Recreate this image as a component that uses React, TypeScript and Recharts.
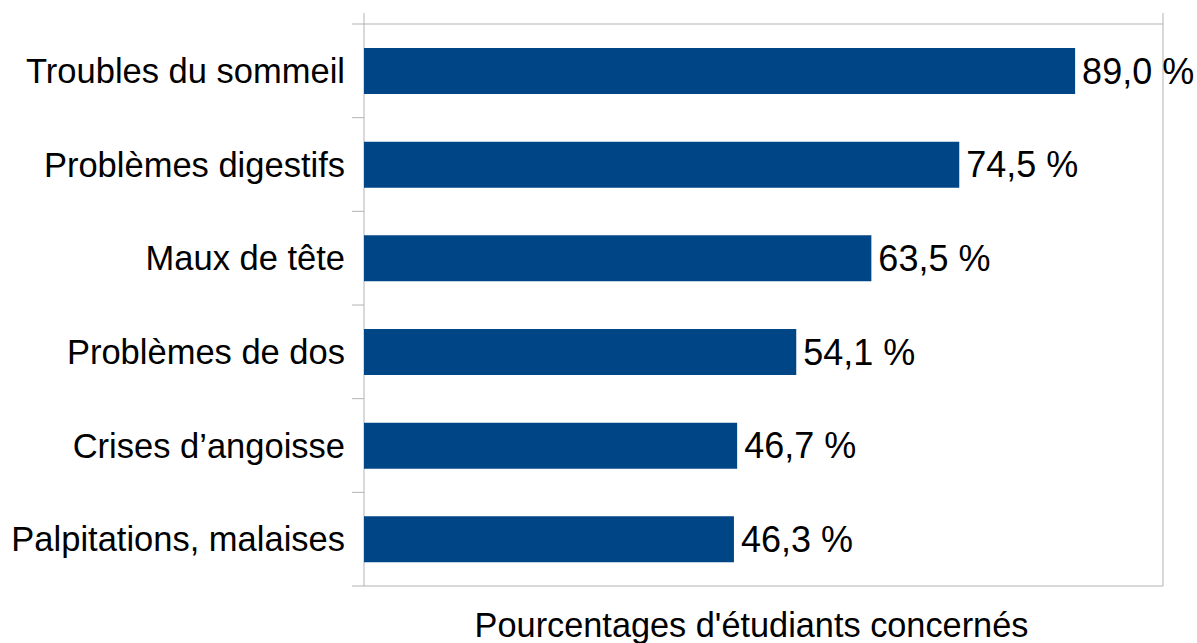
import { BarChart, Bar, XAxis, YAxis, CartesianGrid, LabelList, ReferenceLine } from 'recharts';

const categories = [
  'Troubles du sommeil',
  'Problèmes digestifs',
  'Maux de tête',
  'Problèmes de dos',
  'Crises d’angoisse',
  'Palpitations, malaises',
];
const values = [89.0, 74.5, 63.5, 54.1, 46.7, 46.3];
const xTicks = [0, 10, 20, 30, 40, 50, 60, 70, 80, 90, 100];
const axisTitle = "Pourcentages d'étudiants concernés";

const data = categories.map((name, i) => ({ name, value: values[i] }));

const GRID = '#b3b3b3';
const TICK_MARGIN = 7;
const TICK_LEN = 12;

const formatPct = (v: number) => `${v.toFixed(1).replace('.', ',')} %`;

// label + the short tick marks that sit on the band edges
function CategoryTick(props: any) {
  const { x, y, payload, index, visibleTicksCount } = props;
  const half = payload?.offset ?? 0;
  const axisX = x + TICK_MARGIN;
  return (
    <g>
      <line x1={axisX - TICK_LEN} x2={axisX} y1={y - half} y2={y - half} stroke={GRID} />
      {index === visibleTicksCount - 1 && (
        <line x1={axisX - TICK_LEN} x2={axisX} y1={y + half} y2={y + half} stroke={GRID} />
      )}
      <text x={x - TICK_LEN} y={y} dy="0.355em" textAnchor="end" fontSize={34.5} fill="#000">
        {payload.value}
      </text>
    </g>
  );
}

export default function App() {
  return (
    <div
      style={{
        position: 'absolute',
        left: 0,
        top: 0,
        width: 1197,
        height: 643,
        background: '#fff',
        fontFamily: '"Liberation Sans", Arial, sans-serif',
      }}
    >
      <BarChart
        width={1197}
        height={643}
        data={data}
        layout="vertical"
        margin={{ top: 13, right: 34, bottom: 0, left: 0 }}
      >
        <CartesianGrid yAxisId="labels" horizontal={false} stroke={GRID} />
        <XAxis
          type="number"
          domain={[0, 100]}
          ticks={xTicks}
          tick={false}
          tickLine={false}
          stroke={GRID}
          height={57}
          label={{
            value: axisTitle,
            position: 'insideBottom',
            offset: 6,
            dx: -12,
            fill: '#000',
            fontSize: 34.3,
          }}
        />
        <YAxis
          yAxisId="labels"
          type="category"
          dataKey="name"
          width={364}
          axisLine={false}
          tickLine={false}
          tickSize={0}
          tickMargin={TICK_MARGIN}
          tick={<CategoryTick />}
          padding={{ top: 11, bottom: 0 }}
          interval={0}
        />
        <ReferenceLine yAxisId="labels" y={categories[0]} position="start" stroke={GRID} />
        <Bar yAxisId="labels" dataKey="value" fill="#004586" barSize={46} isAnimationActive={false}>
          <LabelList
            dataKey="value"
            position="right"
            offset={7}
            formatter={(v: any) => formatPct(Number(v))}
            fill="#000"
            fontSize={36}
          />
        </Bar>
      </BarChart>
    </div>
  );
}
